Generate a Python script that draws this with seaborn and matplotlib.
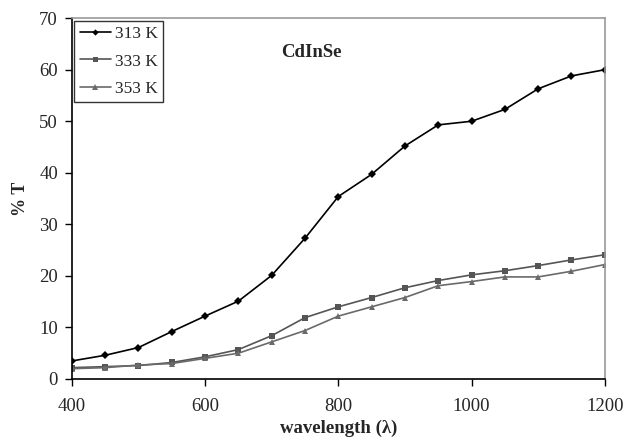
import pandas as pd
import matplotlib
matplotlib.use('Agg')
import matplotlib.pyplot as plt
import seaborn as sns

wavelength = [400, 450, 500, 550, 600, 650, 700, 750, 800, 850, 900, 950, 1000, 1050, 1100, 1150, 1200]
t313 = [3.5, 4.6, 6.1, 9.2, 12.2, 15.1, 20.1, 27.3, 35.4, 39.7, 45.2, 49.3, 50.0, 52.3, 56.3, 58.8, 60.0]
t333 = [2.2, 2.4, 2.6, 3.2, 4.3, 5.7, 8.4, 11.9, 14.0, 15.8, 17.7, 19.1, 20.2, 21.0, 22.0, 23.1, 24.1]
t353 = [2.0, 2.2, 2.7, 3.0, 4.0, 5.0, 7.2, 9.4, 12.2, 14.0, 15.8, 18.1, 18.9, 19.8, 19.8, 20.9, 22.2]
labels = ['313 K', '333 K', '353 K']

df = pd.DataFrame({'wavelength': wavelength * 3,
                   'T': t313 + t333 + t353,
                   'temp': [labels[0]] * 17 + [labels[1]] * 17 + [labels[2]] * 17})

sns.set_style('white')
plt.rcParams['font.family'] = ['Liberation Serif', 'DejaVu Serif']

fig = plt.figure(figsize=(6.3, 4.43), dpi=100)
ax = fig.add_axes([0.114, 0.1445, 0.846, 0.8145])

palette = {'313 K': '#000000', '333 K': '#555555', '353 K': '#6a6a6a'}
markers = {'313 K': 'D', '333 K': 's', '353 K': '^'}
sizes = {'313 K': 4, '333 K': 4.5, '353 K': 5}
for lab in labels:
    sub = df[df['temp'] == lab]
    sns.lineplot(data=sub, x='wavelength', y='T', color=palette[lab], marker=markers[lab],
                 markersize=sizes[lab], markeredgewidth=0, linewidth=1.2, label=lab, ax=ax)

ax.set_xlim(400, 1200)
ax.set_ylim(0, 70)
ax.set_xticks([400, 600, 800, 1000, 1200])
ax.set_yticks(range(0, 71, 10))
ax.tick_params(axis='both', direction='out', length=5, width=1, color='black',
               labelsize=13.5, bottom=True, left=True)
ax.tick_params(axis='x', pad=9)
ax.tick_params(axis='y', pad=5)
ax.set_xlabel('wavelength (λ)', fontsize=13.5, fontweight='bold', labelpad=3)
ax.set_ylabel('% T', fontsize=13, fontweight='bold', labelpad=7)

for side in ['left', 'bottom']:
    ax.spines[side].set_color('black')
    ax.spines[side].set_linewidth(1.2)
for side in ['top', 'right']:
    ax.spines[side].set_color('#999999')
    ax.spines[side].set_linewidth(1.2)

ax.text(759, 63.4, 'CdInSe', fontsize=13.5, fontweight='bold', ha='center', va='center')

leg = ax.legend(loc='upper left', fontsize=12.5, frameon=True, fancybox=False,
                edgecolor='black', borderaxespad=0.15, borderpad=0.3, handlelength=1.8,
                handletextpad=0.25, labelspacing=0.65, markerscale=0.8)
leg.get_frame().set_linewidth(1.0)

fig.savefig('out.png', dpi=100)
